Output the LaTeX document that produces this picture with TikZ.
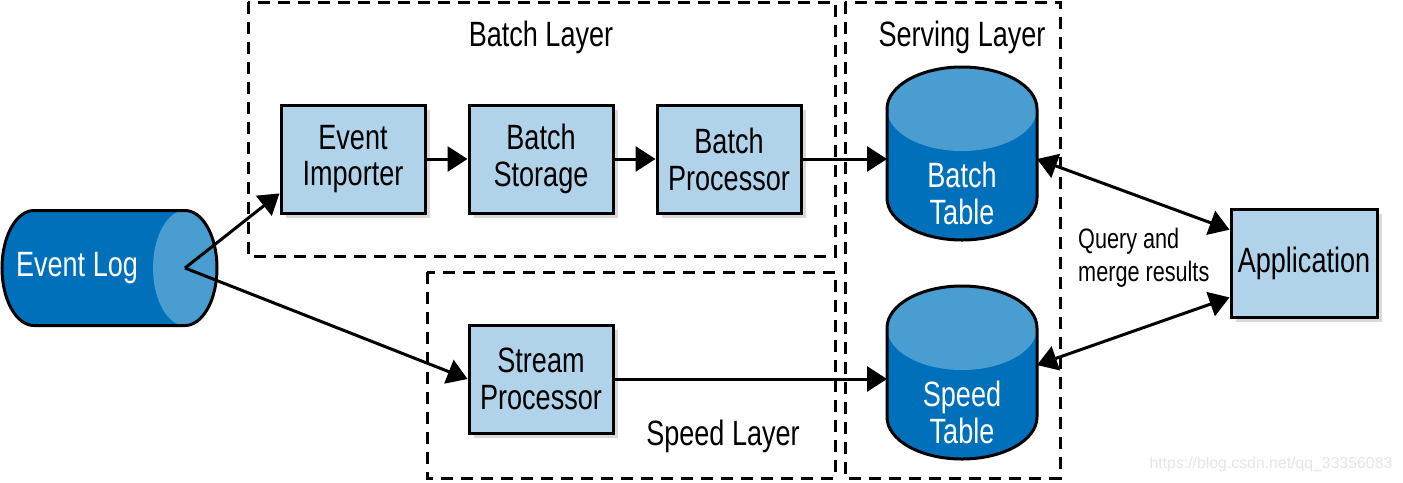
\documentclass[tikz,border=0pt]{standalone}
\usepackage{fontspec}
\setmainfont{Liberation Sans}[FakeStretch=0.77]
\newfontfamily\wmfont{Liberation Sans}
\usetikzlibrary{arrows.meta,positioning,shadows,calc}
\definecolor{cbox}{HTML}{B0D3EA}
\definecolor{cdeep}{HTML}{0070BA}
\definecolor{cpale}{HTML}{4A9DD0}
\tikzset{
  box/.style={draw, line width=0.6mm, fill=cbox, align=center, minimum width=28.8mm, minimum height=21.6mm, inner sep=1pt, font=\fontsize{20}{21}\selectfont, drop shadow={shadow xshift=0.9mm, shadow yshift=-0.9mm, opacity=0.3}},
  tbl/.style={text=white, align=center, minimum width=30mm, inner sep=0pt, outer sep=0pt, font=\fontsize{20}{21}\selectfont},
  drum/.style={draw, line width=0.6mm, line join=round},
  layer/.style={draw, line width=0.6mm, dash pattern=on 2.4mm off 1.6mm},
  ttl/.style={font=\fontsize{20}{21}\selectfont},
  ar/.style={-{Triangle[length=4mm, width=5mm]}, line width=0.6mm},
  dar/.style={{Triangle[length=4mm, width=5mm]}-{Triangle[length=4mm, width=5mm]}, line width=0.6mm},
}
% upright table drum round a text point
\newcommand{\drumat}[1]{%
  \fill[cdeep] ($(#1)+(-75,-84)$) arc[start angle=180, end angle=0, x radius=15mm, y radius=8.4mm] -- ($(#1)+(75,5)$) arc[start angle=0, end angle=-180, x radius=15mm, y radius=8.4mm] -- cycle;
  \fill[cpale] ($(#1)+(0,-84)$) ellipse[x radius=15mm, y radius=8.4mm];
  \draw[drum] ($(#1)+(-75,-84)$) arc[start angle=180, end angle=0, x radius=15mm, y radius=8.4mm] -- ($(#1)+(75,5)$) arc[start angle=0, end angle=-180, x radius=15mm, y radius=8.4mm] -- cycle;
}
\begin{document}
\begin{tikzpicture}[x=0.2mm, y=-0.2mm]
\useasboundingbox (0,0) rectangle (1403,482);
% layers
\draw[layer] (248,2) rectangle (835,256);
\draw[layer] (845,2) rectangle (1060,478);
\draw[layer] (427,272) rectangle (835,478);
\node[ttl] (tb) at (541,37) {Batch Layer};
\node[ttl] (ts) at (962,37) {Serving Layer};
\node[ttl] (tp) at (723,436) {Speed Layer};
% event log
\coordinate (lg) at (77,268);
\fill[cdeep] ($(lg)+(108,-57.5)$) -- ($(lg)+(-43,-57.5)$) arc[start angle=90, end angle=270, x radius=6.4mm, y radius=11.5mm] -- ($(lg)+(108,57.5)$) arc[start angle=-90, end angle=90, x radius=6.4mm, y radius=11.5mm] -- cycle;
\fill[cpale] ($(lg)+(108,0)$) ellipse[x radius=6.4mm, y radius=11.5mm];
\draw[drum] ($(lg)+(108,-57.5)$) -- ($(lg)+(-43,-57.5)$) arc[start angle=90, end angle=270, x radius=6.4mm, y radius=11.5mm] -- ($(lg)+(108,57.5)$) arc[start angle=-90, end angle=90, x radius=6.4mm, y radius=11.5mm] -- cycle;
\node[tbl, minimum width=0pt] (log) at (lg) {Event Log};
% tables
\coordinate (bt) at (962,193);
\coordinate (st) at (962,412);
\drumat{bt}
\drumat{st}
\node[tbl] (btab) at (bt) {Batch\\Table};
\node[tbl] (stab) at (st) {Speed\\Table};
% boxes
\node[box] (imp) at (353,159) {Event\\Importer};
\node[box] (sto) at (541,159) {Batch\\Storage};
\node[box] (proc) at (729,159) {Batch\\Processor};
\node[box] (str) at (541,379) {Stream\\Processor};
\node[box, minimum width=29.2mm] (app) at (1304,263) {Application};
\node[font=\fontsize{16}{18.7}\selectfont, align=left, anchor=west] (qm) at (1072,258) {Query and\\merge results};
\node[font=\wmfont\fontsize{9}{10}\selectfont, text=black!10] (wm) at (1271,464) {https://blog.csdn.net/qq\_33356083};
% arrows
\coordinate (logc) at ($(log)+(108,0)$);
\draw[ar] (logc) -- ($(imp.south west)!0.19!(imp.north west)$);
\draw[ar] (logc) -- (str.west);
\draw[ar] (imp) -- (sto);
\draw[ar] (sto) -- (proc);
\draw[ar] (proc) -- (proc -| btab.west);
\draw[ar] (str) -- (str -| stab.west);
\draw[dar] ($(btab.east)+(0,-34)$) -- ($(app.north west)!0.2!(app.south west)$);
\draw[dar] ($(stab.east)+(0,-47)$) -- ($(app.south west)!0.19!(app.north west)$);
\end{tikzpicture}
\end{document}
